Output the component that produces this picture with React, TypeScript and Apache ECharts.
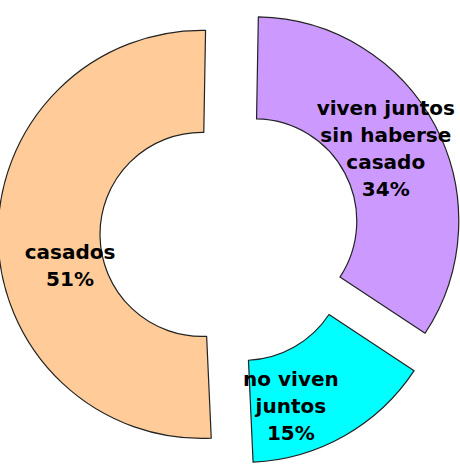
import React, { useEffect, useRef } from "react";
import * as echarts from "echarts";

const categories = ["viven juntos\nsin haberse\ncasado", "no viven\njuntos", "casados"];
const values = [34, 15, 51];
const colors = ["#CC99FF", "#00FFFF", "#FFCC99"];
const labelShift = [
  [-7, 0],
  [-30, 12],
  [24, 29],
];

export default function App() {
  const ref = useRef<HTMLDivElement>(null);
  useEffect(() => {
    if (!ref.current) return;
    const chart = echarts.init(ref.current, null, { renderer: "svg" });
    chart.setOption({
      animation: false,
      backgroundColor: "#ffffff",
      series: [
        {
          type: "pie",
          center: [230, 234],
          radius: [102, 204],
          startAngle: 89,
          clockwise: true,
          selectedMode: "multiple",
          selectedOffset: 28,
          percentPrecision: 0,
          emphasis: { disabled: true },
          itemStyle: { borderColor: "#222222", borderWidth: 1.2 },
          label: {
            show: true,
            position: "inside",
            formatter: "{b}\n{d}%",
            color: "#000000",
            fontFamily: "DejaVu Sans",
            fontWeight: "bold",
            fontSize: 20,
            lineHeight: 27,
            align: "center",
          },
          labelLine: { show: false },
          labelLayout: (p: any) => ({
            dx: labelShift[p.dataIndex][0],
            dy: labelShift[p.dataIndex][1],
          }),
          data: categories.map((name, i) => ({
            name,
            value: values[i],
            selected: true,
            itemStyle: { color: colors[i] },
          })),
        },
      ],
    });
    return () => chart.dispose();
  }, []);
  return (
    <div
      ref={ref}
      style={{ position: "absolute", left: 0, top: 0, width: 460, height: 466 }}
    />
  );
}
